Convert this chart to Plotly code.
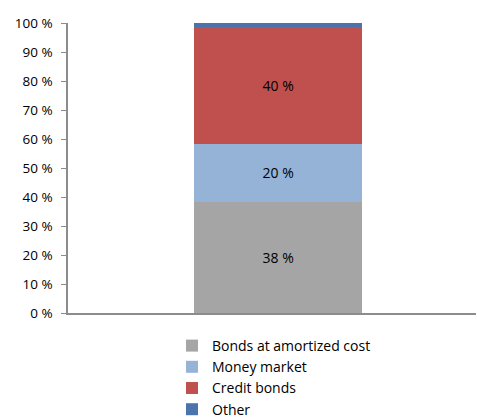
import plotly.graph_objects as go

categories = [""]
series_names = ["Bonds at amortized cost", "Money market", "Credit bonds", "Other"]
bonds_amortized = [38.4]
money_market = [19.8]
credit_bonds = [40.4]
other = [1.4]
y_ticks = [0, 10, 20, 30, 40, 50, 60, 70, 80, 90, 100]
y_tick_labels = [f"{v} %" for v in y_ticks]

series_values = [bonds_amortized, money_market, credit_bonds, other]
colors = ["#A5A5A5", "#95B3D7", "#C0504D", "#4A74AB"]
show_labels = [True, True, True, False]

FONT = "Open Sans"
W, H = 477, 419

fig = go.Figure()
for name, vals, col, lab in zip(series_names, series_values, colors, show_labels):
    fig.add_trace(go.Bar(
        x=categories, y=vals, name=name,
        marker=dict(color=col, line=dict(width=0)),
        width=0.41,
        text=[f"{v:.0f} %" for v in vals] if lab else None,
        textposition="inside" if lab else "none",
        insidetextanchor="middle",
        textfont=dict(family=FONT, size=14, color="#000000"),
        hoverinfo="skip",
    ))

fig.update_layout(
    width=W, height=H,
    margin=dict(l=68, r=1, t=23, b=106, autoexpand=False),
    barmode="stack",
    paper_bgcolor="white", plot_bgcolor="white",
    font=dict(family=FONT, size=13, color="#000000"),
    showlegend=True,
    legend=dict(
        orientation="v", traceorder="normal",
        x=172 / W, xref="container", xanchor="left",
        y=1 - 330 / H, yref="container", yanchor="top",
        font=dict(family=FONT, size=14, color="#000000"),
        itemwidth=30, tracegroupgap=0,
        bgcolor="rgba(0,0,0,0)",
    ),
    xaxis=dict(
        range=[-0.515, 0.485],
        showticklabels=False, ticks="",
        showline=True, linecolor="#8C8C8C", linewidth=1.5,
        showgrid=False, zeroline=False, fixedrange=True,
    ),
    yaxis=dict(
        range=[0, 100],
        tickvals=y_ticks, ticktext=y_tick_labels,
        ticks="outside", ticklen=5, tickcolor="#8C8C8C", tickwidth=1,
        ticklabelstandoff=6,
        showline=True, linecolor="#8C8C8C", linewidth=1.5,
        showgrid=False, zeroline=False,
        tickfont=dict(family=FONT, size=13.5, color="#000000"),
        fixedrange=True,
    ),
)

fig.write_html(
    "out.html",
    config={"displayModeBar": False},
    post_script="document.body.style.margin='0';document.body.style.overflow='hidden';",
)
